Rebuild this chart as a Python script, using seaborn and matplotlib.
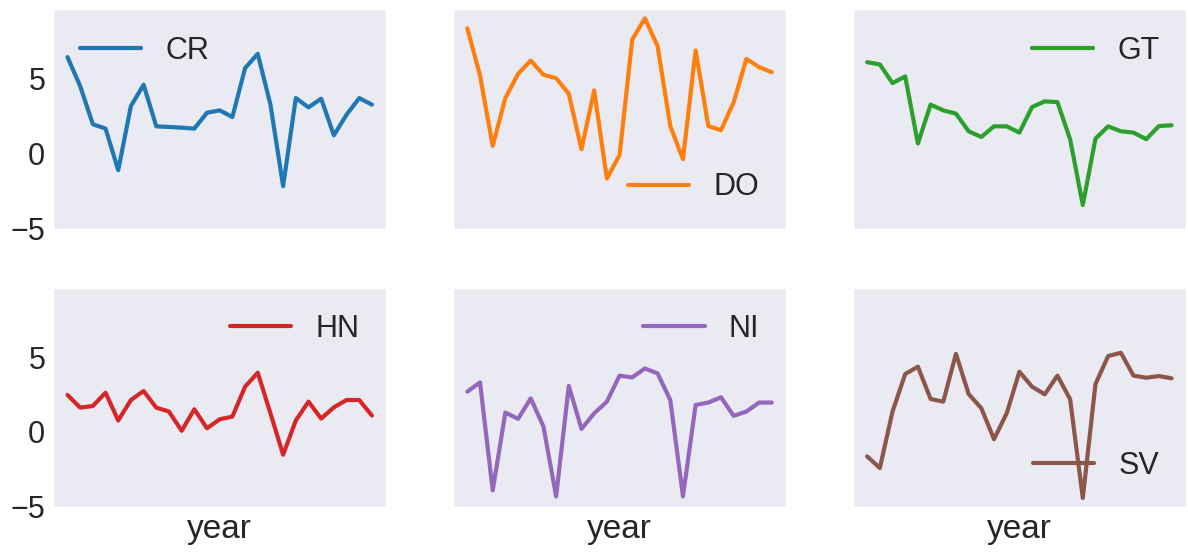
import pandas as pd
import matplotlib
matplotlib.use("Agg")
import matplotlib.pyplot as plt
import seaborn as sns

years = list(range(1995, 2020))
countries = ["CR", "DO", "GT", "HN", "NI", "SV"]

cr = [6.45, 4.51, 1.96, 1.67, -1.11, 3.18, 4.60, 1.82, 1.78, 1.73, 1.67, 2.73, 2.89,
      2.44, 5.71, 6.67, 3.27, -2.18, 3.71, 3.09, 3.67, 1.22, 2.60, 3.71, 3.27]
do = [8.38, 5.22, 0.51, 3.71, 5.33, 6.22, 5.27, 5.04, 4.00, 0.29, 4.22, -1.67, -0.11,
      7.62, 9.04, 7.18, 1.84, -0.38, 6.89, 1.84, 1.56, 3.44, 6.33, 5.78, 5.44]
gt = [6.11, 5.96, 4.71, 5.16, 0.67, 3.27, 2.89, 2.67, 1.49, 1.11, 1.82, 1.82, 1.40,
      3.11, 3.49, 3.44, 0.96, -3.44, 1.00, 1.82, 1.49, 1.40, 0.96, 1.84, 1.89]
hn = [2.47, 1.62, 1.73, 2.62, 0.76, 2.13, 2.73, 1.62, 1.36, 0.07, 1.51, 0.24, 0.84,
      1.02, 3.02, 3.96, 1.24, -1.53, 0.76, 2.02, 0.89, 1.64, 2.13, 2.13, 1.09]
ni = [2.69, 3.31, -3.91, 1.29, 0.87, 2.24, 0.36, -4.31, 3.07, 0.20, 1.24, 2.02, 3.76,
      3.64, 4.24, 3.91, 2.13, -4.31, 1.80, 1.96, 2.31, 1.07, 1.36, 1.96, 1.96]
sv = [-1.64, -2.42, 1.36, 3.87, 4.36, 2.20, 2.02, 5.22, 2.53, 1.58, -0.49, 1.24, 4.02,
      3.02, 2.51, 3.76, 2.18, -4.42, 3.20, 5.07, 5.29, 3.76, 3.62, 3.73, 3.58]

legendLocs = ["upper left", "lower right", "upper right", "upper right", "upper right", "lower right"]

sns.set_theme(style="dark", context="poster")
plt.rcParams['font.family'] = ['Liberation Sans', 'DejaVu Sans']
plt.rcParams['ytick.major.size'] = 0
plt.rcParams['xtick.major.size'] = 0
plt.rcParams['ytick.major.pad'] = 5

df = pd.DataFrame({"year": years, "CR": cr, "DO": do, "GT": gt, "HN": hn, "NI": ni, "SV": sv})
colors = sns.color_palette("tab10", len(countries))

fig, axes = plt.subplots(2, 3, figsize=(11.88, 5.54), dpi=100, sharex=True, sharey=True)
for i, (ax, code) in enumerate(zip(axes.flat, countries)):
    sns.lineplot(data=df, x="year", y=code, ax=ax, color=colors[i], label=code, linewidth=3)
    ax.legend(loc=legendLocs[i], frameon=False)
    ax.set_ylabel("")
    if i < 3:
        ax.set_xlabel("")
    else:
        ax.set_xlabel("year", visible=True)
axes[0, 0].set_xticks([])
axes[0, 0].set_yticks([-5, 0, 5])

plt.subplots_adjust(left=0.044, right=0.999, top=0.985, bottom=0.083, wspace=0.194, hspace=0.257)
plt.savefig("out.png", dpi=100)
plt.close()
